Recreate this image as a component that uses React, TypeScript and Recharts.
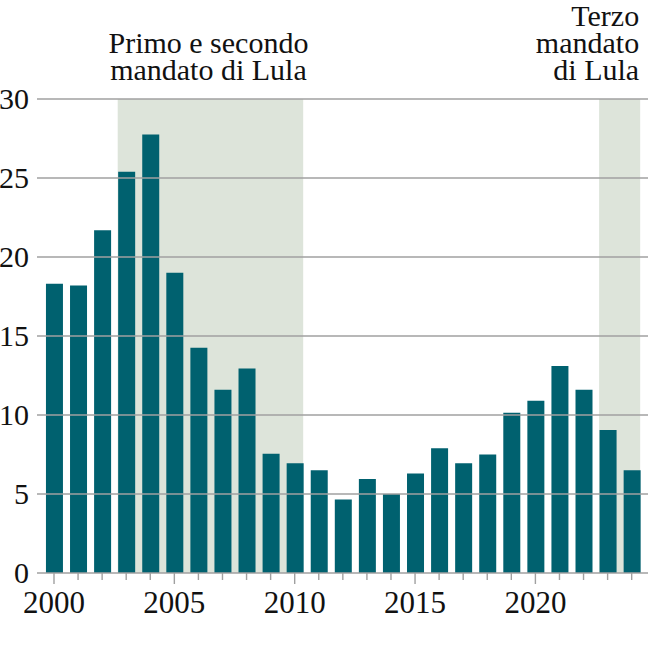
import React from 'react';
import { ComposedChart, Bar, XAxis, YAxis, ReferenceArea, ReferenceLine } from 'recharts';

const years = [2000, 2001, 2002, 2003, 2004, 2005, 2006, 2007, 2008, 2009, 2010, 2011, 2012, 2013, 2014, 2015, 2016, 2017, 2018, 2019, 2020, 2021, 2022, 2023, 2024];
const values = [18.3, 18.2, 21.7, 25.4, 27.75, 19.0, 14.25, 11.6, 12.95, 7.55, 6.95, 6.5, 4.65, 5.95, 5.0, 6.3, 7.9, 6.95, 7.5, 10.15, 10.9, 13.1, 11.6, 9.05, 6.5];
const yTicks = [0, 5, 10, 15, 20, 25, 30];
const xLabelYears = [2000, 2005, 2010, 2015, 2020];
const termStarts = [2003, 2023];
const termEnds = [2010, 2024];
const termLabels = [
  ['Primo e secondo', 'mandato di Lula'],
  ['Terzo', 'mandato', 'di Lula'],
];

const data = years.map((y, i) => ({ year: y, value: values[i] }));

const FONT = "'Liberation Serif', 'DejaVu Serif', 'Noto Serif', Tinos, 'Times New Roman', Times, FreeSerif, Georgia, serif";
const GRID = '#a0a0a0';
const BAR = '#00616f';
const SHADE = '#dde4da';
const HALF_BAR = 0.353; // half of a bar's width, in years

const XTick = (props: any) => {
  const { x, y, payload } = props;
  const major = xLabelYears.includes(payload.value);
  return (
    <g>
      <line x1={x} x2={x} y1={y} y2={y + (major ? 11 : 7)} stroke={GRID} strokeWidth={1.4} />
      {major && (
        <text x={x} y={y + 40} textAnchor="middle" fontSize={31} fontFamily={FONT} fill="#111">
          {payload.value}
        </text>
      )}
    </g>
  );
};

const YTick = (props: any) => {
  const { x, y, payload } = props;
  return (
    <text x={x - 2} y={y + 10} textAnchor="end" fontSize={30} fontFamily={FONT} fill="#111">
      {payload.value}
    </text>
  );
};

const makeLabel = (lines: string[], align: 'middle' | 'end') => (props: any) => {
  const vb = props.viewBox || {};
  const x = align === 'middle' ? vb.x + vb.width / 2 - 2 : vb.x + vb.width - 1;
  const n = lines.length;
  return (
    <text
      x={x}
      y={vb.y - 19 - (n - 1) * 27}
      textAnchor={align}
      fontSize={30}
      fontFamily={FONT}
      fill="#111"
    >
      {lines.map((l, i) => (
        <tspan key={i} x={x} dy={i === 0 ? 0 : 27}>
          {l}
        </tspan>
      ))}
    </text>
  );
};

export default function App() {
  return (
    <div style={{ position: 'absolute', left: 0, top: 0, fontFamily: FONT }}>
      <ComposedChart width={649} height={646} data={data} margin={{ top: 99, right: 1, bottom: 0, left: 0 }}>
        <XAxis
          dataKey="year"
          type="number"
          domain={[1999.294, 2024.678]}
          ticks={years}
          interval={0}
          tick={<XTick />}
          tickLine={false}
          tickSize={0}
          tickMargin={0}
          axisLine={{ stroke: GRID, strokeWidth: 1.4 }}
          height={73}
          allowDataOverflow
        />
        <YAxis
          type="number"
          domain={[0, 30]}
          ticks={yTicks}
          width={37}
          axisLine={false}
          tickLine={false}
          tickSize={0}
          tickMargin={6}
          tick={<YTick />}
        />
        {termStarts.map((s, i) => (
          <ReferenceArea
            key={'a' + i}
            x1={s - HALF_BAR}
            x2={termEnds[i] + HALF_BAR}
            y1={0}
            y2={30}
            fill={SHADE}
            fillOpacity={1}
            stroke="none"
            label={makeLabel(termLabels[i], i === 0 ? 'middle' : 'end')}
          />
        ))}
        {yTicks.filter((t) => t > 0).map((t) => (
          <ReferenceLine key={'g' + t} y={t} stroke={GRID} strokeWidth={1.4} />
        ))}
        <Bar dataKey="value" fill={BAR} barSize={17} isAnimationActive={false} />
      </ComposedChart>
    </div>
  );
}
